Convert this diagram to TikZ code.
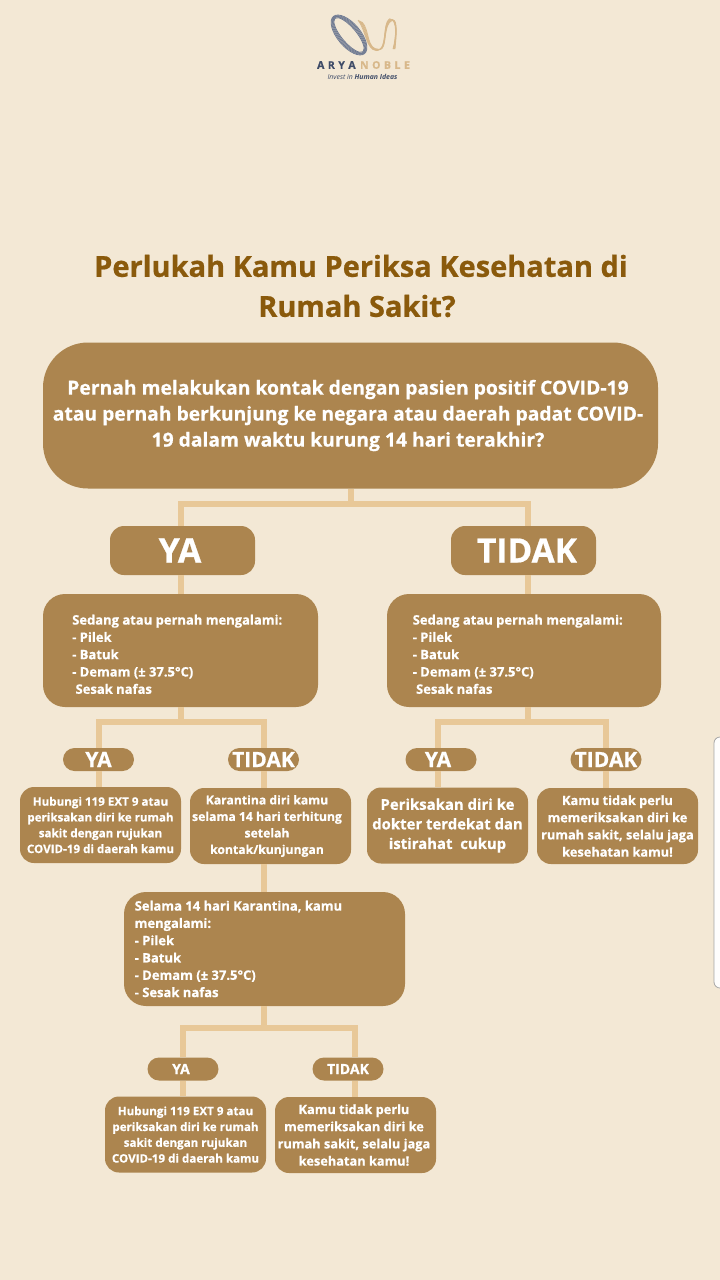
\documentclass[tikz,border=0pt]{standalone}
\usepackage{fontspec}
\setmainfont{Open Sans}[BoldFeatures={FakeBold=0.6}]
\definecolor{bgc}{HTML}{F3E8D5}
\definecolor{boxc}{HTML}{AC854F}
\definecolor{linec}{HTML}{E8C898}
\definecolor{titlec}{HTML}{8A5A0C}
\definecolor{navyc}{HTML}{6F7A92}
\definecolor{tanc}{HTML}{D8B88A}
\definecolor{logotextc}{HTML}{3F4C68}
\begin{document}
\begin{tikzpicture}[x=1pt,y=-1pt,
  base/.style={fill=boxc,draw=none,rounded corners=#1,inner sep=0pt,text=white,align=center,font=\bfseries},
  base/.default=18pt,
  conn/.style={draw=linec,line width=6pt},
  big/.style={base=45pt,minimum width=615pt,minimum height=146pt},
  choice/.style={base=14pt,minimum width=145pt,minimum height=49pt},
  pill/.style={base=11.5pt,minimum width=71pt,minimum height=23pt},
  sympt/.style={base=22pt,minimum width=275pt,minimum height=113pt},
  res/.style={base=14pt,minimum width=161pt,minimum height=76pt},
  ttl/.style={text=titlec,font=\bfseries\fontsize{29}{40}\selectfont,align=center,inner sep=0pt},
  lst/.style={text=white,font=\bfseries\fontsize{13}{17.3}\selectfont,align=left,inner sep=0pt,anchor=north west},
  small/.style={font=\bfseries\fontsize{11.6}{15.8}\selectfont},
  smallb/.style={font=\bfseries\fontsize{12.2}{16.5}\selectfont},
  smallc/.style={font=\bfseries\fontsize{12.8}{17.2}\selectfont},
  med/.style={font=\bfseries\fontsize{14.9}{19.6}\selectfont},
  pillf/.style={font=\bfseries\fontsize{21}{24}\selectfont},
  pills/.style={font=\bfseries\fontsize{14}{16}\selectfont},
  strandn/.style={draw=navyc,line width=0.8pt},
  strandt/.style={draw=tanc,line width=0.8pt},
]
\useasboundingbox (0,0) rectangle (720,1280);
\fill[bgc] (0,0) rectangle (720,1280);

% logo
\foreach \d in {-2,-1,0,1,2}{
 \draw[strandn,rotate around={-50:(349,35)}] (349,35) ellipse ({23+\d*.6} and {9.5+\d});
 \draw[strandt] (360+\d,21+\d*.5) .. controls (368+\d,30) and (366,50) .. (378+\d*.7,50-\d*.3) .. controls (388,50) and (382,24) .. (391+\d*.8,19.5+\d*.3) .. controls (398,19) and (396,38) .. (394+\d*.5,49);
}
\node[inner sep=0pt,font=\bfseries\fontsize{10.5}{12}\selectfont] (logotext) at (363.5,65) {\textcolor{logotextc}{A\,\,R\,\,Y\,\,A}\hspace{4.5pt}\textcolor{tanc}{N\,\,O\,\,B\,\,L\,\,E}};
\node[inner sep=0pt,text=logotextc,font=\itshape\fontsize{6.9}{8}\selectfont] (tagline) at (362.5,77) {Invest in \textbf{Human Ideas}};

% scrollbar edge
\draw[fill=white!92!bgc,draw=black!35,line width=0.8pt,rounded corners=6pt] (726,737) -- (714,737) -- (714,988) -- (726,988);

% title
\node[ttl] (title) at (361,286) {Perlukah Kamu Periksa Kesehatan di\\\hspace*{-8pt}Rumah Sakit?};

% elbows
\coordinate (t0) at (350.5,504);
\coordinate (tl) at (181,504);
\coordinate (tr) at (528,504);
\coordinate (l0) at (181,722);
\coordinate (ll) at (98.5,722);
\coordinate (lr) at (264,722);
\coordinate (r0) at (528,722);
\coordinate (rl) at (438,722);
\coordinate (rr) at (606,722);
\coordinate (m0) at (264,1028);
\coordinate (ml) at (183,1028);
\coordinate (mr) at (355,1028);

% boxes
\node[big,font=\bfseries\fontsize{19.3}{26}\selectfont] (main) at (350.5,415.5)
 {\hspace*{-5pt}Pernah melakukan kontak dengan pasien positif COVID-19\\\hspace*{-5pt}atau pernah berkunjung ke negara atau daerah padat COVID-\\\hspace*{-5pt}19 dalam waktu kurung 14 hari terakhir?};

\node[choice,font=\bfseries\fontsize{34}{38}\selectfont] (ya) at (182.5,550.5) {\hspace*{-5pt}YA};
\node[choice,font=\bfseries\fontsize{33.5}{38}\selectfont] (tidak) at (523.5,550.5) {\hspace*{7pt}TIDAK};

\node[sympt] (sleft) at (180.5,650.5) {};
\node[sympt,minimum width=274pt] (sright) at (524,650.5) {};
\node[lst] (sleftt) at (72,614.5) {Sedang atau pernah mengalami:\\- Pilek\\- Batuk\\- Demam (± 37.5°C)\\\ Sesak nafas};
\node[lst] (srightt) at (412.5,614.5) {Sedang atau pernah mengalami:\\- Pilek\\- Batuk\\- Demam (± 37.5°C)\\\ Sesak nafas};

\node[pill,pillf] (p1) at (98.5,759.5) {YA};
\node[pill,pillf] (p2) at (263.5,759.5) {TIDAK};
\node[pill,pillf] (p3) at (441,759.5) {\hspace*{-6pt}YA};
\node[pill,pillf] (p4) at (606,759.5) {TIDAK};

\node[res,small] (r1) at (100.5,825) {Hubungi 119 EXT 9 atau\\periksakan diri ke rumah\\sakit dengan rujukan\\COVID-19 di daerah kamu};
\node[res,smallb] (r2) at (270.5,826) {\hspace*{-7pt}Karantina diri kamu\\\hspace*{-7pt}selama 14 hari terhitung\\\hspace*{-7pt}setelah\\\hspace*{-7pt}kontak/kunjungan};
\node[res,med] (r3) at (447.5,825.5) {Periksakan diri ke\\dokter terdekat dan\\istirahat\ \ cukup};
\node[res,smallc] (r4) at (617.5,826) {Kamu tidak perlu\\memeriksakan diri ke\\rumah sakit, selalu jaga\\kesehatan kamu!};

\node[sympt,minimum width=281pt,minimum height=114pt] (mid) at (264.5,949) {};
\node[lst] (midt) at (134.5,900.5) {Selama 14 hari Karantina, kamu\\mengalami:\\- Pilek\\- Batuk\\- Demam (± 37.5°C)\\- Sesak nafas};

\node[pill,pills] (p5) at (183,1069) {\hspace*{-4pt}YA};
\node[pill,pills] (p6) at (348,1069) {TIDAK};
\node[res,small] (r5) at (185.5,1134.5) {Hubungi 119 EXT 9 atau\\periksakan diri ke rumah\\sakit dengan rujukan\\COVID-19 di daerah kamu};
\node[res,smallc,minimum height=76pt] (r6) at (355.5,1135) {\hspace*{-3pt}Kamu tidak perlu\\\hspace*{-3pt}memeriksakan diri ke\\\hspace*{-3pt}rumah sakit, selalu jaga\\\hspace*{-3pt}kesehatan kamu!};

% connectors
\draw[conn] (main.south -| t0) -- (t0);
\draw[conn] (ya.south -| tl) -- (sleft.north -| tl);
\draw[conn] (tidak.south -| tr) -- (sright.north -| tr);
\draw[conn] (ya.north -| tl) -- (tl) -- (tr) -- (tidak.north -| tr);
\draw[conn] (sleft.south -| l0) -- (l0);
\draw[conn] (p1.north -| ll) -- (ll) -- (lr) -- (p2.north -| lr);
\draw[conn] (p1.south -| ll) -- (r1.north -| ll);
\draw[conn] (p2.south -| lr) -- (r2.north -| lr);
\draw[conn] (sright.south -| r0) -- (r0);
\draw[conn] (p3.north -| rl) -- (rl) -- (rr) -- (p4.north -| rr);
\draw[conn] (p3.south -| rl) -- (r3.north -| rl);
\draw[conn] (p4.south -| rr) -- (r4.north -| rr);
\draw[conn] (r2.south -| m0) -- (mid.north -| m0);
\draw[conn] (mid.south -| m0) -- (m0);
\draw[conn] (p5.north -| ml) -- (ml) -- (mr) -- (p6.north -| mr);
\draw[conn] (p5.south -| ml) -- (r5.north -| ml);
\draw[conn] (p6.south -| mr) -- (r6.north -| mr);
\end{tikzpicture}
\end{document}
